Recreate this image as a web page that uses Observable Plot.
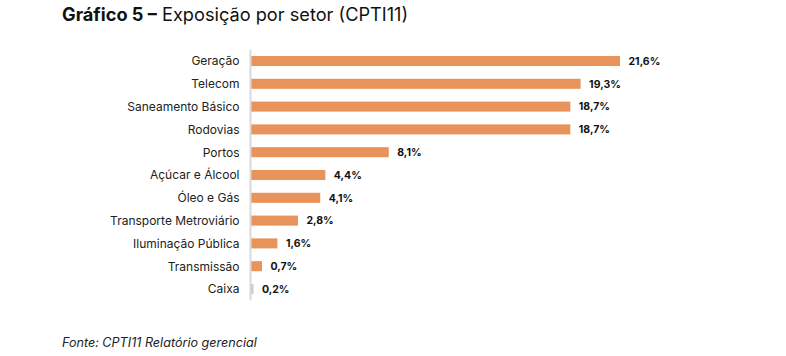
<!DOCTYPE html>
<html>
<head>
<meta charset="utf-8">
<script src="https://cdn.jsdelivr.net/npm/d3@7"></script>
<script src="https://cdn.jsdelivr.net/npm/@observablehq/plot@0.6"></script>
<style>
  html, body { margin: 0; padding: 0; background: #fff; width: 786px; height: 356px; overflow: hidden; }
  #title { position: absolute; left: 62px; top: 3px; font-family: Inter, "Noto Sans", sans-serif; font-size: 18.2px; color: #111; white-space: nowrap; }
  #title b { font-weight: 700; }
  #chart { position: absolute; left: 0; top: 40px; }
  #caption { position: absolute; left: 62px; top: 335px; font-family: Inter, "Noto Sans", sans-serif; font-style: italic; font-size: 12.6px; color: #222; }
</style>
</head>
<body>
<div id="title"><b>Gráfico 5 –</b> Exposição por setor (CPTI11)</div>
<div id="chart"></div>
<div id="caption">Fonte: CPTI11 Relatório gerencial</div>
<script>
const sectors = ["Geração", "Telecom", "Saneamento Básico", "Rodovias", "Portos", "Açúcar e Álcool", "Óleo e Gás", "Transporte Metroviário", "Iluminação Pública", "Transmissão", "Caixa"];
const values = [21.6, 19.3, 18.7, 18.7, 8.1, 4.4, 4.1, 2.8, 1.6, 0.7, 0.2];
const kinds = ["setor", "setor", "setor", "setor", "setor", "setor", "setor", "setor", "setor", "setor", "caixa"];

const data = sectors.map((s, i) => ({sector: s, value: values[i], kind: kinds[i]}));
const fmt = v => v.toFixed(1).replace(".", ",") + "%";

const chart = Plot.plot({
  width: 786,
  height: 270,
  marginLeft: 250,
  marginRight: 166,
  marginTop: 9.6,
  marginBottom: 9.6,
  style: {fontFamily: "Inter, 'Noto Sans', sans-serif", background: "transparent"},
  x: {domain: [0, 21.6], axis: null},
  y: {domain: sectors, paddingInner: 0.56, paddingOuter: 0.28, round: false, label: null},
  color: {domain: ["setor", "caixa"], range: ["#E8935A", "#C9C9C9"]},
  marks: [
    Plot.barX(data, {x: "value", y: "sector", fill: "kind"}),
    Plot.ruleX([0], {stroke: "#d9d9d9", strokeWidth: 2}),
    Plot.axisY({tickSize: 0, tickPadding: 11, fontSize: 12, fill: "#222", label: null}),
    Plot.text(data, {x: "value", y: "sector", text: d => fmt(d.value), textAnchor: "start", dx: 8, fontWeight: "bold", fontSize: 10.5, fill: "#111"})
  ]
});
document.getElementById("chart").appendChild(chart);
</script>
</body>
</html>
